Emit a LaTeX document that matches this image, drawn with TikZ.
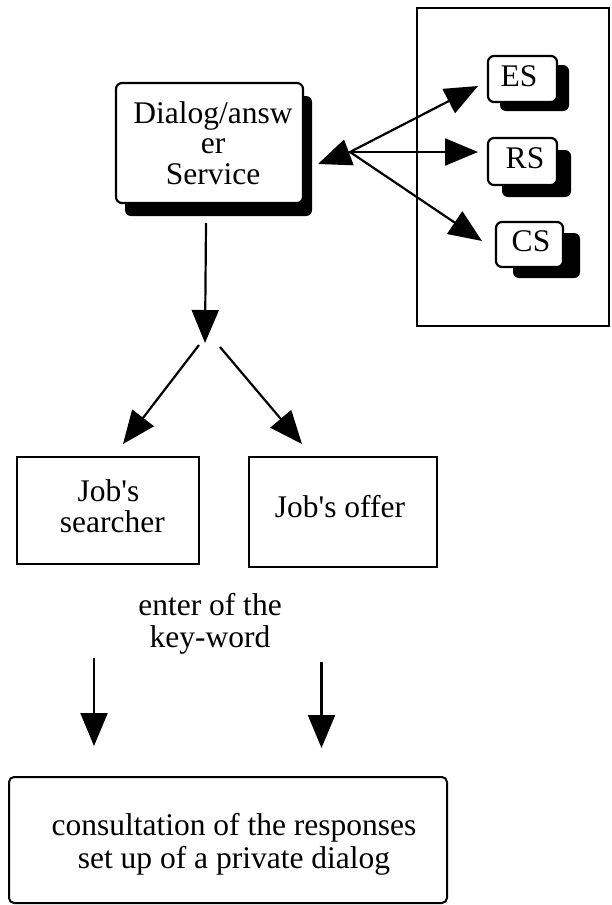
\documentclass[tikz,border=0pt]{standalone}
\usepackage{fontspec}
\setmainfont{Liberation Serif}
\usetikzlibrary{arrows.meta,shadows}
\begin{document}
\begin{tikzpicture}[x=1pt,y=-1pt,
  every node/.style={font=\fontsize{31.5}{31}\selectfont},
  shbox/.style={draw, line width=2.2pt, rounded corners=6pt, fill=white, inner sep=0pt},
  sqbox/.style={draw, line width=1.8pt, inner sep=0pt},
  rbox/.style={draw, line width=2pt, rounded corners=5pt, inner sep=0pt},
  txt/.style={align=center, inner sep=0pt},
  arr/.style={line width=2.2pt, -{Triangle[length=33pt,width=27pt]}},
  shad/.style 2 args={drop shadow={shadow xshift=#1pt, shadow yshift=-#2pt, fill=black, opacity=1}}
]
\useasboundingbox (0,0) rectangle (611,905);

% group box on the right
\node[draw, line width=2pt, minimum width=192pt, minimum height=318pt, inner sep=0pt] (grp) at (513,167) {};

% dialog/answer service
\node[shbox, shad={9}{13}, minimum width=187pt, minimum height=120pt] (dlg) at (209.5,143) {};
\node[txt, font=\fontsize{31.5}{30.5}\selectfont] (dlgt) at (213,142.8) {Dialog/answ\\er\\Service};

% ES RS CS
\node[shbox, shad={12}{9}, minimum width=69pt, minimum height=46pt] (es) at (522.5,79) {};
\node[txt] (est) at (519,76.5) {ES};
\node[shbox, shad={14}{12}, minimum width=69pt, minimum height=47pt] (rs) at (522.5,161.5) {};
\node[txt] (rst) at (525,158.5) {RS};
\node[shbox, shad={17}{11}, minimum width=67pt, minimum height=45pt] (cs) at (529.5,244.5) {};
\node[txt] (cst) at (531,241.5) {CS};

% job boxes
\node[sqbox, minimum width=182pt, minimum height=107pt] (srch) at (108,510.5) {};
\node[txt] (srcht) at (108.5,505.8) {Job\textquotesingle s~\\~searcher};
\node[sqbox, minimum width=188pt, minimum height=110pt] (offr) at (343,512) {};
\node[txt] (offrt) at (340,506.3) {Job\textquotesingle s offer};

% key-word text
\node[txt, font=\fontsize{31.5}{32}\selectfont] (kw) at (210,623.7) {enter of the\\key-word};

% bottom box
\node[rbox, minimum width=438pt, minimum height=126pt] (cons) at (228,840) {};
\node[txt, font=\fontsize{31.5}{33}\selectfont] (const) at (234,844.2) {consultation of the responses\\set up of a private dialog};

% coordinates
\coordinate (j) at (350,152);
\coordinate (tipD) at (318,164);
\coordinate (tipE) at (478,86);
\coordinate (tipR) at (478,152);
\coordinate (tipC) at (482,241);
\coordinate (dstart) at (206,223);
\coordinate (dtip) at (205,343);
\coordinate (ls) at (199,345);
\coordinate (lt) at (123,444);
\coordinate (rs0) at (220,347);
\coordinate (rt) at (302,444);
\coordinate (a1s) at (94,658);
\coordinate (a1t) at (94,746);
\coordinate (a2s) at (321.5,662);
\coordinate (a2t) at (321.5,748);

% connectors
\draw[arr] (j) -- (tipD);
\draw[arr] (j) -- (tipE);
\draw[arr] (j) -- (tipR);
\draw[arr] (j) -- (tipC);
\draw[arr] (dstart) -- (dtip);
\draw[arr] (ls) -- (lt);
\draw[arr] (rs0) -- (rt);
\draw[arr] (a1s) -- (a1t);
\draw[arr] (a2s) -- (a2t);
\end{tikzpicture}
\end{document}
